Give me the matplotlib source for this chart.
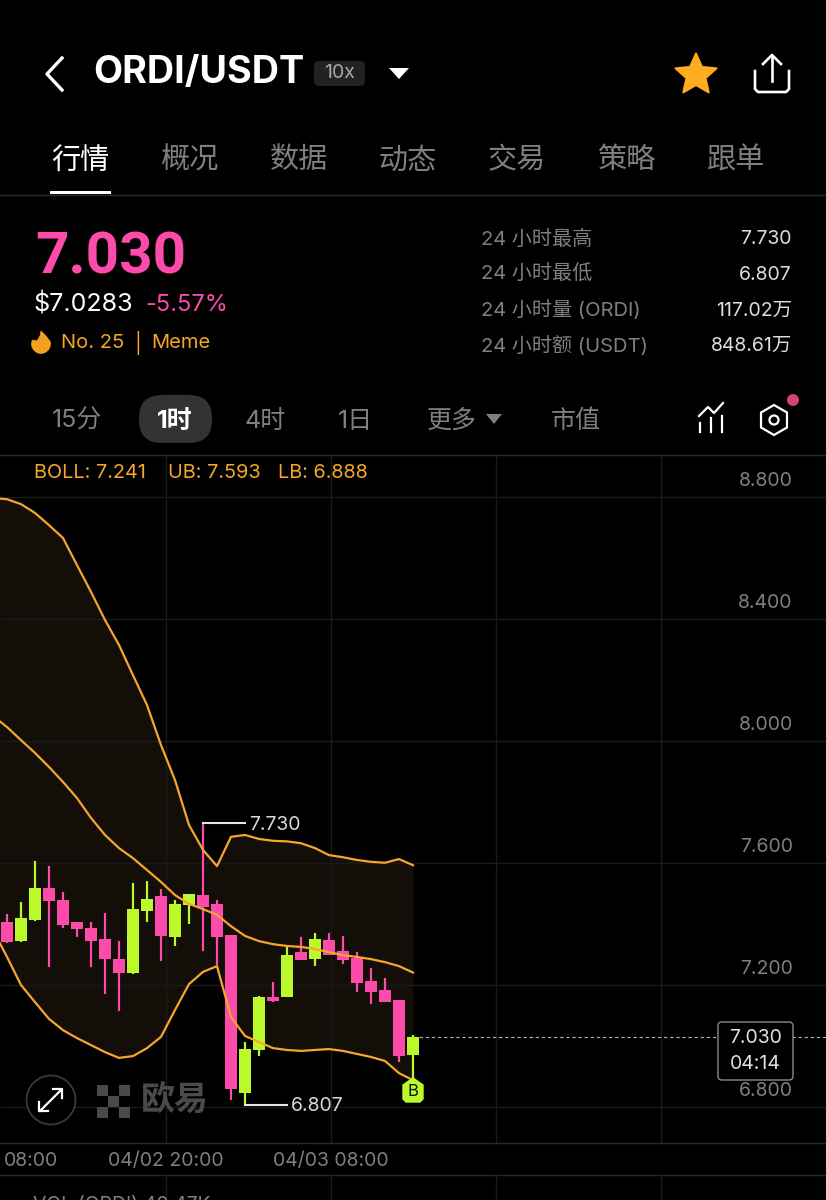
import numpy as np
import matplotlib
matplotlib.use("Agg")
import matplotlib.pyplot as plt
from matplotlib.patches import Circle, FancyBboxPatch, Polygon, Rectangle

# candles, prices
opens = [7.408, 7.343, 7.412, 7.517, 7.478, 7.408, 7.386, 7.351, 7.284, 7.240,
         7.444, 7.491, 7.356, 7.461, 7.495, 7.467, 7.364, 6.847, 6.986, 7.162,
         7.160, 7.308, 7.285, 7.347, 7.310, 7.287, 7.212, 7.185, 7.152, 6.969]
closes = [7.340, 7.421, 7.517, 7.477, 7.397, 7.385, 7.346, 7.284, 7.240, 7.449,
          7.481, 7.360, 7.465, 7.499, 7.457, 7.357, 6.858, 6.991, 7.161, 7.149,
          7.297, 7.283, 7.351, 7.300, 7.281, 7.206, 7.176, 7.144, 6.968, 7.030]
highs = [7.433, 7.472, 7.607, 7.591, 7.504, 7.408, 7.408, 7.435, 7.346, 7.534,
         7.540, 7.515, 7.479, 7.499, 7.730, 7.480, 7.364, 7.014, 7.163, 7.210,
         7.328, 7.356, 7.372, 7.370, 7.360, 7.309, 7.257, 7.222, 7.152, 7.036]
lows = [7.339, 7.341, 7.410, 7.260, 7.386, 7.357, 7.259, 7.172, 7.115, 7.237,
        7.407, 7.280, 7.328, 7.401, 7.313, 7.266, 6.823, 6.807, 6.968, 7.143,
        7.160, 7.283, 7.263, 7.297, 7.270, 7.176, 7.137, 7.144, 6.948, 6.894]

# bollinger bands, first point is the candle just off the left edge
boll_upper = [8.797, 8.793, 8.777, 8.748, 8.708, 8.666, 8.577, 8.489, 8.397, 8.315,
              8.216, 8.118, 7.987, 7.872, 7.725, 7.643, 7.590, 7.686, 7.692, 7.679,
              7.673, 7.671, 7.665, 7.649, 7.626, 7.619, 7.610, 7.604, 7.601, 7.613, 7.593]
boll_mid = [8.082, 8.046, 8.003, 7.961, 7.915, 7.866, 7.813, 7.748, 7.692, 7.649,
            7.616, 7.577, 7.538, 7.495, 7.466, 7.449, 7.430, 7.393, 7.361, 7.344,
            7.334, 7.328, 7.325, 7.318, 7.308, 7.298, 7.292, 7.285, 7.275, 7.262, 7.241]
boll_lower = [7.380, 7.292, 7.200, 7.144, 7.089, 7.052, 7.026, 7.003, 6.980, 6.961,
              6.967, 6.993, 7.030, 7.118, 7.203, 7.243, 7.262, 7.095, 7.033, 7.013,
              6.993, 6.987, 6.984, 6.987, 6.990, 6.984, 6.974, 6.964, 6.951, 6.911, 6.888]

price_ticks = [8.8, 8.4, 8.0, 7.6, 7.2, 6.8]
price_labels = ["8.800", "8.400", "8.000", "7.600", "7.200", "6.800"]
time_grid = [11.33, 23.14, 34.93, 46.71]
time_labels = ["04/02 20:00", "04/03 08:00"]
tabs = ["行情", "概况", "数据", "动态", "交易", "策略", "跟单"]
stat_names = ["24 小时最高", "24 小时最低", "24 小时量 (ORDI)", "24 小时额 (USDT)"]
stat_values = ["7.730", "6.807", "117.02万", "848.61万"]
periods = ["15分", "1时", "4时", "1日", "更多", "市值"]

PINK = "#fc4bab"
GREEN = "#bcf92a"
ORANGE = "#f5a62b"
GREY = "#7f7f7f"
GRID = "#1b1a19"
LINE = "#2a2a2a"
FONT = ["Inter", "Noto Sans CJK SC", "DejaVu Sans"]

plt.rcParams["font.family"] = FONT

fig = plt.figure(figsize=(8.26, 12), dpi=100, facecolor="black")

# price chart, pixel rows 455-1143
ax = fig.add_axes([0, (1200 - 1143) / 1200, 1, (1143 - 455) / 1200])
ax.set_facecolor("black")
ax.set_xlim(-0.5, 58.5)
ax.set_ylim(6.682, 8.938)
for s in ax.spines.values():
    s.set_visible(False)
ax.set_xticks([])
ax.set_yticks([])

x_candle = np.arange(len(opens))
x_band = np.arange(-1, len(opens))

ax.fill_between(x_band, boll_lower, boll_upper, color="#130e08", lw=0, zorder=1)
ax.hlines(np.array(price_ticks), -0.5, 58.5, color=GRID, lw=1, zorder=2)
ax.vlines(time_grid, 6.682, 8.938, color=GRID, lw=1, zorder=2)

colors = [GREEN if c >= o else PINK for o, c in zip(opens, closes)]
ax.vlines(x_candle, lows, highs, colors=colors, lw=1.6, zorder=3)
ax.bar(x_candle, np.abs(np.array(closes) - np.array(opens)),
       bottom=np.minimum(opens, closes), width=0.89, color=colors, zorder=3)

for band in (boll_upper, boll_mid, boll_lower):
    ax.plot(x_band, band, color=ORANGE, lw=1.6, zorder=4)

# last price dashed line
ax.plot([29, 58.5], [closes[-1], closes[-1]], color="#b5b5b5", lw=0.8, ls=(0, (3, 2.5)), zorder=2)

for p, lab in zip(price_ticks, price_labels):
    ax.annotate(lab, (56.12, p), xytext=(0, 5.3), textcoords="offset points", color=GREY,
                fontsize=14, ha="right", va="bottom")

# high / low markers
ax.plot([14, 17], [7.730, 7.730], color="#e6e6e6", lw=1.5, zorder=5)
ax.annotate("7.730", (17.3, 7.730), xytext=(0, -1), textcoords="offset points",
            color="#d8d8d8", fontsize=14, va="center", zorder=5)
ax.plot([17, 20], [6.807, 6.807], color="#e6e6e6", lw=1.5, zorder=5)
ax.annotate("6.807", (20.3, 6.807), xytext=(0, -1), textcoords="offset points",
            color="#d8d8d8", fontsize=14, va="center", zorder=5)

# everything else is page furniture in pixel coordinates
ui = fig.add_axes([0, 0, 1, 1], zorder=10)
ui.set_xlim(0, 826)
ui.set_ylim(1200, 0)
ui.axis("off")


def txt(x, y, s, color="white", size=14.5, ha="left", weight="normal", family=None):
    ui.text(x, y + 2, s, color=color, fontsize=size, ha=ha, va="center", fontweight=weight,
            family=family or FONT)


def rounded(x0, y0, x1, y1, r, **kw):
    ui.add_patch(FancyBboxPatch((x0 + r, y0 + r), x1 - x0 - 2 * r, y1 - y0 - 2 * r,
                                boxstyle=f"round,pad={r},rounding_size={r}", **kw))


for y in (195, 455, 1143, 1175):
    ui.plot([0, 826], [y, y], color=LINE, lw=1)

# grid of the next panel
for x in (165.5, 331, 496, 661):
    ui.plot([x, x], [1175, 1200], color=GRID, lw=1)

# header
ui.plot([62, 47, 62], [58, 74, 90], color="white", lw=2.4)
txt(93, 71, "ORDI/USDT", size=27.2, weight="bold")
rounded(314, 61, 365, 86, 5, fc="#222222", ec="none")
txt(339.5, 71.5, "10x", color="#a8a8a8", size=14, ha="center")
ui.add_patch(Polygon([[389, 68], [409, 68], [399, 79]], fc="white", ec="none"))

# star
ang = np.deg2rad(np.arange(0, 360, 36) - 90)
rad = np.where(np.arange(10) % 2 == 0, 21.5, 10)
ui.add_patch(Polygon(np.c_[696 + rad * np.cos(ang), 75 + rad * np.sin(ang)],
                     fc="#fdab1f", ec="#fdab1f", lw=1.5, joinstyle="round"))

# share icon
ui.plot([755, 755, 758, 786, 789, 789], [71, 89, 92, 92, 89, 71], color="white", lw=1.9)
ui.plot([772, 772], [56, 81], color="white", lw=1.9)
ui.plot([763, 772, 781], [64, 55, 64], color="white", lw=1.9)

# tabs
for i, t in enumerate(tabs):
    txt(80 + i * 109.3, 159, t, color="white" if i == 0 else GREY, size=21, ha="center")
ui.plot([51, 109], [192, 192], color="white", lw=2.2)

# price block
txt(35, 256, "7.030", color=PINK, size=42, weight="bold", family=["Roboto", "DejaVu Sans"])
txt(33, 303, "$7.0283", size=18)
txt(145, 303, "-5.57%", color=PINK, size=17)
flame_t = np.deg2rad(np.arange(-20, 210, 20))
flame = np.c_[41 + 9.5 * np.cos(flame_t), 344 + 9.5 * np.sin(flame_t)]
ui.add_patch(Polygon(np.vstack([flame, [[33, 340], [37, 341], [40, 336], [41, 331], [46, 336], [49, 340]]]),
                     fc="#f5a021", ec="#f5a021", lw=0.5))
txt(61, 341, "No. 25", color="#f5a623", size=14.5)
txt(134, 341, "|", color="#f5a623", size=14.5)
txt(151, 341, "Meme", color="#f5a623", size=14.5)

# 24h stats
for i, (n, v) in enumerate(zip(stat_names, stat_values)):
    y = 237 + i * 35.7
    txt(481, y, n, color=GREY, size=14.5)
    txt(792, y, v, color="#dddddd", size=14, ha="right")

# period row
rounded(139, 395, 212, 443, 23, fc="#333333", ec="none")
for x, p in zip([77, 175, 265, 355, 452, 576], periods):
    on = p == "1时"
    txt(x, 419, p, color="white" if on else GREY, size=18, ha="center",
        weight="bold" if on else "normal")
ui.add_patch(Polygon([[486, 414], [502, 414], [494, 424]], fc=GREY, ec="none"))

# indicator and settings icons
ui.plot([699, 708, 714, 723], [416, 407, 413, 403], color="white", lw=1.6)
for x, y0 in zip([700, 711, 722], [423, 418, 416]):
    ui.plot([x, x], [y0, 432], color="white", lw=1.6)
hex_a = np.deg2rad(np.arange(0, 360, 60) - 90)
ui.add_patch(Polygon(np.c_[774 + 15 * np.cos(hex_a), 420 + 15 * np.sin(hex_a)],
                     fc="none", ec="white", lw=1.6))
ui.add_patch(Circle((774, 420), 4.5, fc="none", ec="white", lw=1.6))
ui.add_patch(Circle((793, 400), 6, fc="#d8436c", ec="none"))

# indicator legend
txt(34, 471, "BOLL: 7.241", color=ORANGE, size=14.3)
txt(168, 471, "UB: 7.593", color=ORANGE, size=14.3)
txt(278, 471, "LB: 6.888", color=ORANGE, size=14.3)

# expand button
ui.add_patch(Circle((51, 1100), 24.5, fc="black", ec="#3a3a3a", lw=1.3))
ui.plot([40, 61], [1111, 1090], color="white", lw=1.6)
ui.plot([53, 62, 62], [1089, 1089, 1098], color="white", lw=1.6)
ui.plot([39, 39, 48], [1102, 1111, 1111], color="white", lw=1.6)

# watermark
for cx, cy in [(0, 0), (2, 0), (1, 1), (0, 2), (2, 2)]:
    ui.add_patch(Rectangle((97 + cx * 11, 1085 + cy * 11), 11, 11, fc="#4a4a4a", ec="none"))
txt(141, 1100, "欧易", color="#4a4a4a", size=24.5, weight="bold")

# B badge
ui.add_patch(Polygon([[413, 1078], [423, 1085], [423, 1099], [420, 1102], [406, 1102],
                      [403, 1099], [403, 1085]], fc=GREEN, ec=GREEN, lw=1))
txt(413, 1090, "B", color="#111111", size=12, ha="center")

# last price tag
rounded(718, 1022, 793, 1080, 4, fc="black", ec="#8a8a8a", lw=1)
txt(755.5, 1036, "7.030", color="#e0e0e0", size=14, ha="center")
txt(755.5, 1062, "04:14", color="#e0e0e0", size=14, ha="center")

# time axis
txt(31, 1159, "08:00", color=GREY, size=14, ha="center")
txt(165.5, 1159, time_labels[0], color=GREY, size=14, ha="center")
txt(331, 1159, time_labels[1], color=GREY, size=14, ha="center")

# next panel header, cut by the bottom of the screenshot
txt(33, 1203, "VOL (ORDI) 40.47K", color=GREY, size=14)

fig.savefig("out.png", dpi=100, facecolor="black")
